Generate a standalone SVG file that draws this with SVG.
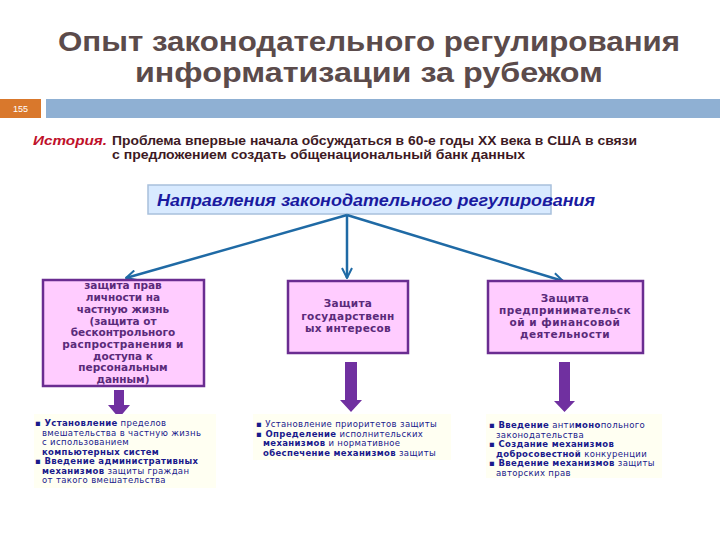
<svg xmlns="http://www.w3.org/2000/svg" width="720" height="540" viewBox="0 0 720 540">
<defs>
<style>
.title{font-family:"Liberation Sans",Arial,sans-serif;font-weight:bold;font-size:27px;fill:#5b4b4b;text-anchor:middle}
.hist{font-family:"Liberation Sans",Arial,sans-serif;font-weight:bold;font-size:12px;fill:#3d1a24}
.histk{font-family:"Liberation Sans",Arial,sans-serif;font-weight:bold;font-style:italic;font-size:13px;fill:#c0102a}
.hdr{font-family:"Liberation Sans",Arial,sans-serif;font-weight:bold;font-style:italic;font-size:16px;fill:#1a1aa0}
.box{fill:#ffccff;stroke:#6a2c91;stroke-width:2.5}
.btxt{font-family:"DejaVu Sans",Verdana,sans-serif;font-weight:bold;font-size:10.5px;fill:#5a2a7a;text-anchor:middle}
.conn{stroke:#1f6aa5;stroke-width:2.5;fill:none}
.blk{fill:#7030a0}
.bul{font-family:"DejaVu Sans",Verdana,sans-serif;font-size:8.5px;letter-spacing:0.35px;fill:#1a1a8c}
.b{font-weight:bold}
.bg{fill:#fffff2}
</style>
<marker id="ah" viewBox="0 0 12 12" refX="11" refY="6" markerWidth="12" markerHeight="12" markerUnits="userSpaceOnUse" orient="auto">
<path d="M1,1 L11,6 L1,11" fill="none" stroke="#1f6aa5" stroke-width="2"/>
</marker>
</defs>
<rect width="720" height="540" fill="#ffffff"/>
<g id="title">
<text class="title" x="369" y="51" textLength="622" lengthAdjust="spacingAndGlyphs">Опыт законодательного регулирования</text>
<text class="title" x="369" y="82" textLength="468" lengthAdjust="spacingAndGlyphs">информатизации за рубежом</text>
</g>
<g id="header-bar">
<rect x="0" y="99" width="41" height="19" fill="#d9782c"/>
<text x="20.5" y="112" font-family="Liberation Sans,sans-serif" font-size="9" fill="#ffffff" text-anchor="middle">155</text>
<rect x="46" y="99" width="674" height="19" fill="#8fb0d3"/>
</g>
<g id="history">
<text class="histk" x="33" y="145" textLength="74" lengthAdjust="spacingAndGlyphs">История.</text>
<text class="hist" x="112" y="145" textLength="525" lengthAdjust="spacingAndGlyphs">Проблема впервые начала обсуждаться в 60-е годы XX века в США в связи</text>
<text class="hist" x="112" y="159" textLength="413" lengthAdjust="spacingAndGlyphs">с предложением создать общенациональный банк данных</text>
</g>
<g id="root">
<rect x="148" y="185" width="403" height="29" fill="#d8eaff" stroke="#a8c0dc" stroke-width="1.5"/>
<text class="hdr" x="157" y="206" textLength="438" lengthAdjust="spacingAndGlyphs">Направления законодательного регулирования</text>
</g>
<g id="connectors">
<line class="conn" x1="347" y1="215" x2="126" y2="278" marker-end="url(#ah)"/>
<line class="conn" x1="347" y1="215" x2="347" y2="278" marker-end="url(#ah)"/>
<line class="conn" x1="347" y1="215" x2="563" y2="281" marker-end="url(#ah)"/>
<path class="blk" d="M114,390 H124 V405 H130 L119,418 L108,405 H114 Z"/>
<path class="blk" d="M345,362 H357 V400 H362 L351,412 L340,400 H345 Z"/>
<path class="blk" d="M559,362 H570 V401 H575 L564.5,412 L554,401 H559 Z"/>
</g>
<g id="node-privacy">
<rect class="box" x="43" y="280" width="161" height="106"/>
<text class="btxt" x="123" y="289">защита прав</text>
<text class="btxt" x="123" y="301">личности на</text>
<text class="btxt" x="123" y="313">частную жизнь</text>
<text class="btxt" x="123" y="325">(защита от</text>
<text class="btxt" x="123" y="336">бесконтрольного</text>
<text class="btxt" x="123" y="348" letter-spacing="0.3">распространения и</text>
<text class="btxt" x="123" y="360">доступа к</text>
<text class="btxt" x="123" y="371">персональным</text>
<text class="btxt" x="123" y="383">данным)</text>
</g>
<g id="node-state">
<rect class="box" x="288" y="281" width="120" height="72"/>
<text class="btxt" x="348" y="307" letter-spacing="0.3">Защита</text>
<text class="btxt" x="348" y="320" letter-spacing="0.3">государственн</text>
<text class="btxt" x="348" y="332" letter-spacing="0.3">ых интересов</text>
</g>
<g id="node-business">
<rect class="box" x="488" y="281" width="155" height="72"/>
<text class="btxt" x="565" y="302" letter-spacing="0.3">Защита</text>
<text class="btxt" x="565" y="314" letter-spacing="0.5">предпринимательск</text>
<text class="btxt" x="565" y="326" letter-spacing="0.5">ой и финансовой</text>
<text class="btxt" x="565" y="338" letter-spacing="0.5">деятельности</text>
</g>
<g id="list-privacy">
<rect class="bg" x="34" y="414" width="182" height="74"/>
<text class="bul" x="35" y="426"><tspan class="b">▪ Установление</tspan> пределов</text>
<text class="bul" x="42" y="435.5">вмешательства в частную жизнь</text>
<text class="bul" x="42" y="445">с использованием</text>
<text class="bul b" x="42" y="454.5">компьютерных систем</text>
<text class="bul" x="35" y="464"><tspan class="b">▪ Введение административных</tspan></text>
<text class="bul" x="42" y="473.5"><tspan class="b">механизмов</tspan> защиты граждан</text>
<text class="bul" x="42" y="483">от такого вмешательства</text>
</g>
<g id="list-state">
<rect class="bg" x="253" y="414" width="198" height="46"/>
<text class="bul" x="256" y="427">▪ Установление приоритетов защиты</text>
<text class="bul" x="256" y="436.5"><tspan class="b">▪ Определение</tspan> исполнительских</text>
<text class="bul" x="263" y="446"><tspan class="b">механизмов</tspan> и нормативное</text>
<text class="bul" x="263" y="455.5"><tspan class="b">обеспечение механизмов</tspan> защиты</text>
</g>
<g id="list-business">
<rect class="bg" x="486" y="414" width="176" height="64"/>
<text class="bul" x="489" y="428"><tspan class="b">▪ Введение</tspan> анти<tspan class="b">моно</tspan>польного</text>
<text class="bul" x="496" y="437.5">законодательства</text>
<text class="bul" x="489" y="447"><tspan class="b">▪ Создание механизмов</tspan></text>
<text class="bul" x="496" y="456.5"><tspan class="b">добросовестной</tspan> конкуренции</text>
<text class="bul" x="489" y="466"><tspan class="b">▪ Введение механизмов</tspan> защиты</text>
<text class="bul" x="496" y="475.5">авторских прав</text>
</g>
</svg>
